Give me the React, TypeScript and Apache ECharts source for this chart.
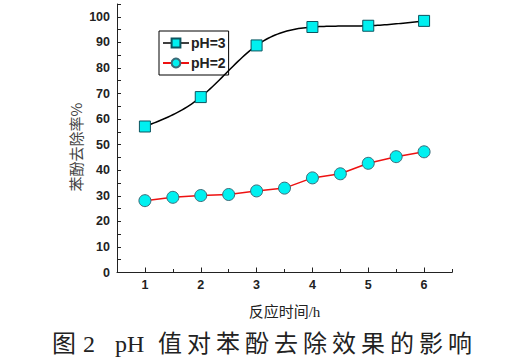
import React, { useEffect, useRef } from "react";
import * as echarts from "echarts";

const xPH3 = [1, 2, 3, 4, 5, 6];
const yPH3 = [57.1, 68.6, 88.8, 96.0, 96.5, 98.4];
const xPH2 = [1, 1.5, 2, 2.5, 3, 3.5, 4, 4.5, 5, 5.5, 6];
const yPH2 = [28.1, 29.4, 30.1, 30.5, 31.9, 33.0, 37.0, 38.6, 42.7, 45.3, 47.2];
const xLabels = [1, 2, 3, 4, 5, 6];
const xMinorTicks = [1.5, 2.5, 3.5, 4.5, 5.5, 6.5];
const yLabels = [0, 10, 20, 30, 40, 50, 60, 70, 80, 90, 100];
const seriesNames = ["pH=3", "pH=2"];
const yName = "苯酚去除率%";
const xName = "反应时间/h";
const captionParts: [string, number][] = [
  ["图", 52], ["2", 83], ["pH", 115], ["值", 158], ["对", 187], ["苯", 216],
  ["酚", 245], ["去", 274], ["除", 303], ["效", 332], ["果", 361], ["的", 390],
  ["影", 419], ["响", 448],
];

const FONT = "'Liberation Sans', Arial, sans-serif";

// natural cubic spline second derivatives
function splineM(xs: number[], ys: number[]): number[] {
  const n = xs.length;
  const h: number[] = [];
  for (let i = 0; i < n - 1; i++) h.push(xs[i + 1] - xs[i]);
  const a: number[] = new Array(n).fill(0);
  const b: number[] = new Array(n).fill(1);
  const c: number[] = new Array(n).fill(0);
  const d: number[] = new Array(n).fill(0);
  for (let i = 1; i < n - 1; i++) {
    a[i] = h[i - 1];
    b[i] = 2 * (h[i - 1] + h[i]);
    c[i] = h[i];
    d[i] = 6 * ((ys[i + 1] - ys[i]) / h[i] - (ys[i] - ys[i - 1]) / h[i - 1]);
  }
  const cp = new Array(n).fill(0);
  const dp = new Array(n).fill(0);
  cp[0] = c[0] / b[0];
  dp[0] = d[0] / b[0];
  for (let i = 1; i < n; i++) {
    const m = b[i] - a[i] * cp[i - 1];
    cp[i] = c[i] / m;
    dp[i] = (d[i] - a[i] * dp[i - 1]) / m;
  }
  const M = new Array(n).fill(0);
  M[n - 1] = dp[n - 1];
  for (let i = n - 2; i >= 0; i--) M[i] = dp[i] - cp[i] * M[i + 1];
  return M;
}

function splineAt(xs: number[], ys: number[], M: number[], i: number, x: number) {
  const h = xs[i + 1] - xs[i];
  const A = (xs[i + 1] - x) / h;
  const B = (x - xs[i]) / h;
  return A * ys[i] + B * ys[i + 1] + ((A * A * A - A) * M[i] + (B * B * B - B) * M[i + 1]) * h * h / 6;
}

export default function App() {
  const ref = useRef<HTMLDivElement>(null);
  useEffect(() => {
    if (!ref.current) return;
    const chart = echarts.init(ref.current, null, { renderer: "svg" });
    const grid = { left: 117, right: 61, top: 4, bottom: 89.5 };
    const M3 = splineM(xPH3, yPH3);
    chart.setOption({
      animation: false,
      backgroundColor: "#ffffff",
      grid,
      legend: {
        left: 159,
        top: 31,
        orient: "vertical",
        padding: [5, 3, 5, 3],
        itemGap: 6,
        itemWidth: 26,
        itemHeight: 11,
        borderColor: "#000",
        borderWidth: 1,
        borderRadius: 0,
        data: [
          { name: seriesNames[0], lineStyle: { color: "#000", width: 1.5, opacity: 1 } },
          { name: seriesNames[1] },
        ],
        textStyle: { fontFamily: FONT, fontSize: 14, fontWeight: "bold", color: "#222", padding: [0, 0, 0, -3] },
      },
      xAxis: [
        {
          type: "value",
          min: 0.5,
          max: 6.5,
          interval: 0.5,
          splitLine: { show: false },
          axisLine: { onZero: false, lineStyle: { color: "#222", width: 1 } },
          axisTick: { inside: true, length: 5, customValues: xLabels, lineStyle: { color: "#222" } },
          axisLabel: {
            customValues: xLabels,
            fontFamily: FONT,
            fontSize: 12.5,
            fontWeight: "bold",
            color: "#222",
            margin: 6,
          },
          name: xName,
          nameLocation: "middle",
          nameGap: 32,
          nameTextStyle: { fontFamily: "'Liberation Serif', 'Noto Sans CJK SC', serif", fontSize: 15, color: "#222" },
        },
        {
          type: "value",
          position: "bottom",
          min: 0.5,
          max: 6.5,
          interval: 0.5,
          splitLine: { show: false },
          axisLine: { show: false },
          axisTick: { inside: true, length: 3.5, customValues: xMinorTicks, lineStyle: { color: "#222" } },
          axisLabel: { show: false },
        },
      ],
      yAxis: {
        type: "value",
        min: 0,
        max: 105,
        interval: 5,
        splitLine: { show: false },
        axisLine: { show: true, lineStyle: { color: "#222", width: 1 } },
        axisTick: { inside: true, length: 4, lineStyle: { color: "#222" } },
        axisLabel: {
          customValues: yLabels,
          fontFamily: FONT,
          fontSize: 12.5,
          fontWeight: "bold",
          color: "#222",
          margin: 7,
        },
      },
      graphic: [
        {
          type: "text",
          x: 75,
          y: 147,
          rotation: Math.PI / 2,
          style: {
            text: yName,
            fontFamily: "'Noto Sans CJK SC', sans-serif",
            fontSize: 15,
            fill: "#444",
            align: "center",
            verticalAlign: "middle",
          },
        },
        ...captionParts.map(([t, x]) => ({
          type: "text",
          x,
          y: 344,
          style: {
            text: t,
            fontFamily: "'Liberation Serif', 'Noto Sans CJK SC', serif",
            fontSize: 24,
            fill: "#222",
            align: "left",
            verticalAlign: "middle",
          },
        })),
      ],
      series: [
        {
          name: seriesNames[0],
          type: "line",
          data: xPH3.map((x, i) => [x, yPH3[i]]),
          symbol: "rect",
          symbolSize: 11,
          lineStyle: { color: "#000", width: 1.5, opacity: 0 },
          itemStyle: { color: "#00f0f0", borderColor: "#0b5560", borderWidth: 1 },
          z: 3,
        },
        {
          type: "custom",
          name: "pH=3-curve",
          data: xPH3.map((x, i) => [x, yPH3[i]]),
          silent: true,
          z: 2,
          renderItem: (params: any, api: any) => {
            const i = params.dataIndex;
            if (i >= xPH3.length - 1) return null;
            const pts: number[][] = [];
            const steps = 24;
            for (let s = 0; s <= steps; s++) {
              const x = xPH3[i] + (xPH3[i + 1] - xPH3[i]) * (s / steps);
              pts.push(api.coord([x, splineAt(xPH3, yPH3, M3, i, x)]));
            }
            return {
              type: "polyline",
              shape: { points: pts },
              style: { stroke: "#000", lineWidth: 1.5, fill: "none" },
            };
          },
        },
        {
          name: seriesNames[1],
          type: "line",
          data: xPH2.map((x, i) => [x, yPH2[i]]),
          symbol: "circle",
          symbolSize: 12,
          lineStyle: { color: "#ee1111", width: 1.5 },
          itemStyle: { color: "#00f0f0", borderColor: "#3a6b78", borderWidth: 1 },
          z: 3,
        },
      ],
    });
    return () => chart.dispose();
  }, []);
  return <div ref={ref} style={{ width: 513, height: 362, position: "absolute", left: 0, top: 0 }} />;
}
